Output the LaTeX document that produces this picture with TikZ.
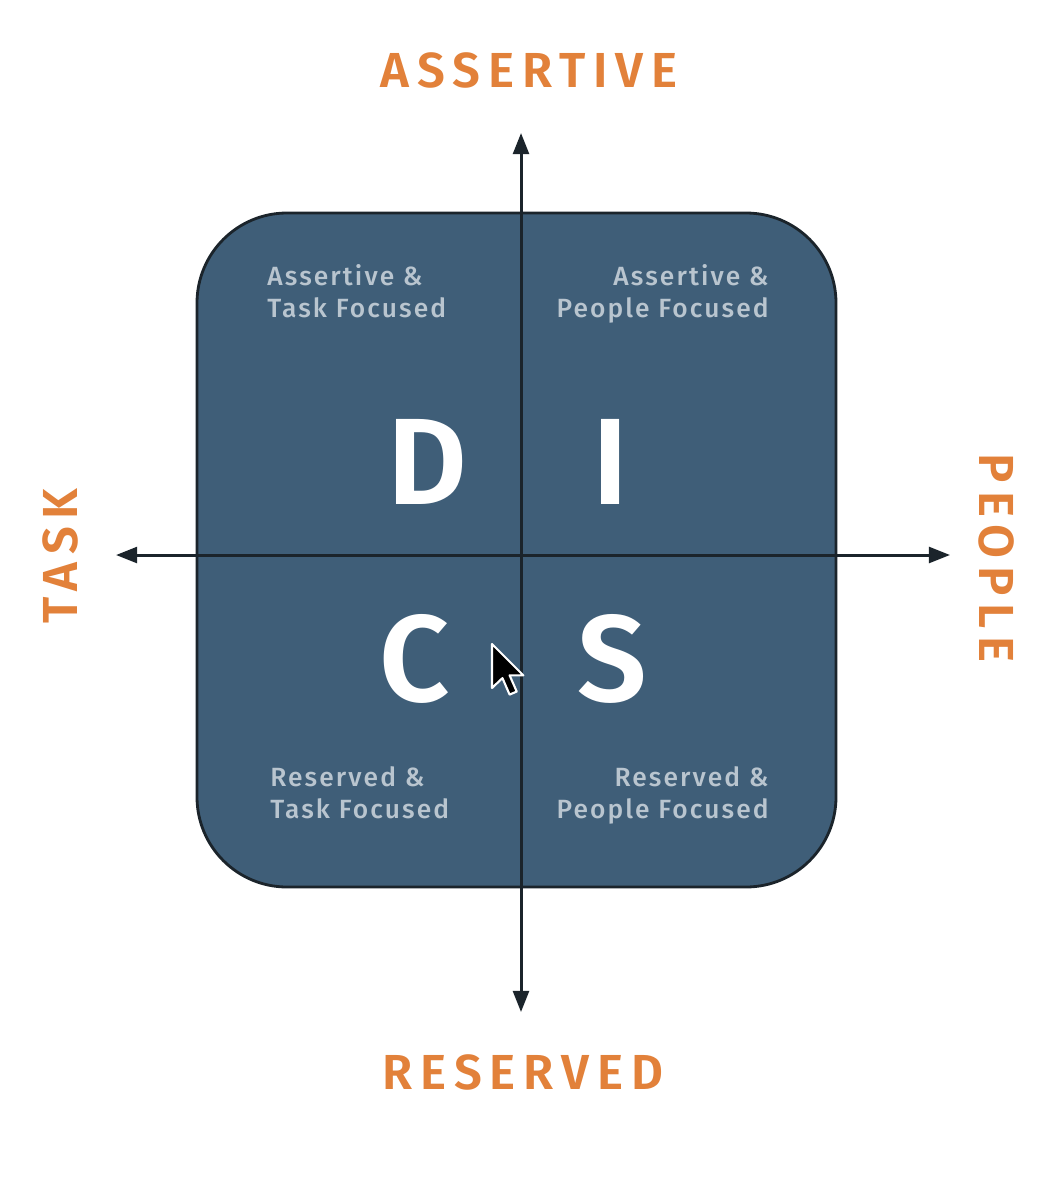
\documentclass[tikz,border=0pt]{standalone}
\usepackage{fontspec}
\usetikzlibrary{arrows.meta}
\setmainfont{Fira Sans}
\newfontfamily\axisfont[LetterSpace=16]{Fira Sans SemiBold}
\newfontfamily\quadfont[LetterSpace=8]{Fira Sans Medium}
\newfontfamily\bigfont{Fira Sans SemiBold}
\definecolor{slate}{HTML}{3F5E78}
\definecolor{edge}{HTML}{1B242B}
\definecolor{axisorange}{HTML}{E2813A}
\definecolor{quadtext}{HTML}{B9C5CF}
\tikzset{
  axislabel/.style={text=axisorange, font=\axisfont\fontsize{28}{30}\selectfont, inner sep=0pt},
  bigletter/.style={text=white, font=\bigfont\fontsize{70}{72}\selectfont, inner sep=0pt},
  quadlabel/.style={text=quadtext, font=\quadfont\fontsize{15}{18.5}\selectfont, inner sep=0pt},
  axisline/.style={draw=edge, line width=1.7pt, -{Triangle[length=12pt,width=9pt]}},
}
\begin{document}
\begin{tikzpicture}[x=0.02cm,y=-0.02cm]
  \useasboundingbox (0,0) rectangle (1058,1200);
  \fill[white] (0,0) rectangle (1058,1200);

  % main rounded square
  \draw[fill=slate, draw=edge, line width=1.6pt, rounded corners=1.8cm]
    (197,213) rectangle (836,887);

  % axes
  \coordinate (c) at (521,555);
  \coordinate (up) at (521,133);
  \coordinate (down) at (521,1012);
  \coordinate (left) at (116,555);
  \coordinate (right) at (950,555);
  \draw[axisline] (c) -- (up);
  \draw[axisline] (c) -- (down);
  \draw[axisline] (c) -- (left);
  \draw[axisline] (c) -- (right);

  % axis labels
  \node[axislabel] (assertive) at (529,70) {ASSERTIVE};
  \node[axislabel] (reserved) at (523,1072) {RESERVED};
  \node[axislabel, rotate=90] (task) at (60,556) {TASK};
  \node[axislabel, rotate=-90] (people) at (997,558) {PEOPLE};

  % quadrant letters
  \node[bigletter] (D) at (427,462) {D};
  \node[bigletter] (I) at (611,462) {I};
  \node[bigletter] (C) at (415,659) {C};
  \node[bigletter] (S) at (612,659) {S};

  % quadrant descriptions
  \node[quadlabel, anchor=north west, align=left] (tl) at (267,264) {Assertive \&\\Task Focused};
  \node[quadlabel, anchor=north east, align=right] (tr) at (769,264) {Assertive \&\\People Focused};
  \node[quadlabel, anchor=north west, align=left] (bl) at (270,766) {Reserved \&\\Task Focused};
  \node[quadlabel, anchor=north east, align=right] (br) at (769,766) {Reserved \&\\People Focused};

  % mouse pointer
  \begin{scope}[shift={(492,644)}, x=0.055cm, y=-0.055cm]
    \draw[fill=black, draw=white, line width=1.2pt, line join=round]
      (0,0) -- (0,16) -- (3.8,12.4) -- (6.4,18.4) -- (9,17.3) -- (6.4,11.4) -- (11.4,11.4) -- cycle;
  \end{scope}
\end{tikzpicture}
\end{document}
